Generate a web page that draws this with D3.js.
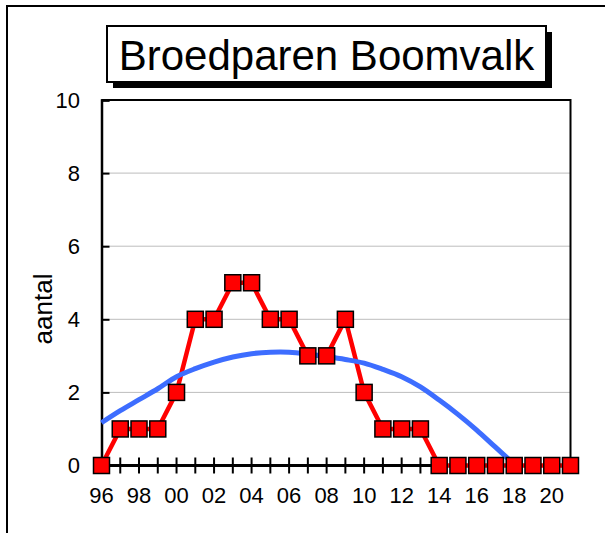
<!DOCTYPE html>
<html>
<head>
<meta charset="utf-8">
<script src="https://cdn.jsdelivr.net/npm/d3@7"></script>
<style>
  body { margin: 0; background: #fff; }
  svg text { font-family: "Liberation Sans", Arial, sans-serif; fill: #000; }
</style>
</head>
<body>
<svg id="chart" width="605" height="533"></svg>
<script>
// broedparen per jaar (96 = 1996, 121 = 2021)
var years = d3.range(96, 122);
var counts = [0, 1, 1, 1, 2, 4, 4, 5, 5, 4, 4, 3, 3, 4, 2, 1, 1, 1, 0, 0, 0, 0, 0, 0, 0, 0];

// trendlijn
var trendYears = d3.range(96, 119);
var trendValues = [1.17, 1.5, 1.8, 2.1, 2.43, 2.65, 2.83, 2.97, 3.06, 3.1, 3.1, 3.05,
                   2.98, 2.9, 2.8, 2.63, 2.43, 2.15, 1.79, 1.4, 0.97, 0.5, 0.04];

var yTicks = [0, 2, 4, 6, 8, 10];
var xLabelYears = d3.range(96, 121, 2);

var svg = d3.select('#chart');

var plot = { left: 101.5, right: 570.5, top: 100, bottom: 465.5 };

var x = d3.scaleLinear().domain([96, 121]).range([plot.left, plot.right]);
var y = d3.scaleLinear().domain([0, 10]).range([plot.bottom, plot.top]);

// outer frame (runs off the right and bottom edge)
svg.append('rect')
    .attr('x', 7).attr('y', 6)
    .attr('width', 650).attr('height', 600)
    .attr('fill', 'none').attr('stroke', '#000').attr('stroke-width', 2);

// title box with shadow
var tb = { x: 107, y: 26, w: 439, h: 56 };
svg.append('rect')
    .attr('x', tb.x + 6).attr('y', tb.y + 6)
    .attr('width', tb.w).attr('height', tb.h)
    .attr('fill', '#000');
svg.append('rect')
    .attr('x', tb.x).attr('y', tb.y)
    .attr('width', tb.w).attr('height', tb.h)
    .attr('fill', '#fff').attr('stroke', '#000').attr('stroke-width', 2);
svg.append('text')
    .attr('x', tb.x + tb.w / 2).attr('y', tb.y + 44)
    .attr('text-anchor', 'middle')
    .style('font-size', '42px')
    .text('Broedparen Boomvalk');

// gridlines
svg.append('g').selectAll('line.grid')
    .data(yTicks.filter(function(d) { return d > 0 && d < 10; }))
    .enter().append('line')
    .attr('class', 'grid')
    .attr('x1', plot.left).attr('x2', plot.right)
    .attr('y1', function(d) { return y(d); })
    .attr('y2', function(d) { return y(d); })
    .attr('stroke', '#bdbdbd').attr('stroke-width', 1);

// plot border top and right
svg.append('path')
    .attr('d', 'M' + plot.left + ',' + plot.top + 'H' + plot.right + 'V' + plot.bottom)
    .attr('fill', 'none').attr('stroke', '#000').attr('stroke-width', 2);

// y axis: ticks pointing inward
var yAxis = svg.append('g')
    .attr('transform', 'translate(' + plot.left + ',0)')
    .call(d3.axisRight(y).tickValues(yTicks).tickSize(8).tickFormat(''));
yAxis.select('.domain').attr('stroke-width', 2.5);
yAxis.selectAll('.tick line').attr('stroke-width', 2);

svg.append('g').selectAll('text.ylab')
    .data(yTicks)
    .enter().append('text')
    .attr('class', 'ylab')
    .attr('x', 80)
    .attr('y', function(d) { return y(d); })
    .attr('dy', '0.36em')
    .attr('text-anchor', 'end')
    .style('font-size', '22px')
    .text(function(d) { return d; });

svg.append('text')
    .attr('transform', 'translate(52,309) rotate(-90)')
    .attr('text-anchor', 'middle')
    .style('font-size', '26px')
    .text('aantal');

// x axis: crossing ticks at every year
var xAxis = svg.append('g')
    .attr('transform', 'translate(0,' + plot.bottom + ')');
xAxis.append('line')
    .attr('x1', plot.left).attr('x2', plot.right)
    .attr('stroke', '#000').attr('stroke-width', 3);
xAxis.selectAll('line.xt')
    .data(years)
    .enter().append('line')
    .attr('class', 'xt')
    .attr('x1', function(d) { return x(d); })
    .attr('x2', function(d) { return x(d); })
    .attr('y1', -8).attr('y2', 8)
    .attr('stroke', '#000').attr('stroke-width', 2);

svg.append('g').selectAll('text.xlab')
    .data(xLabelYears)
    .enter().append('text')
    .attr('class', 'xlab')
    .attr('x', function(d) { return x(d); })
    .attr('y', 503)
    .attr('text-anchor', 'middle')
    .style('font-size', '22px')
    .text(function(d) { return d3.format('02')(d % 100); });

// data line
var line = d3.line()
    .x(function(d, i) { return x(years[i]); })
    .y(function(d) { return y(d); });

svg.append('path')
    .datum(counts)
    .attr('d', line)
    .attr('fill', 'none')
    .attr('stroke', '#ff0000')
    .attr('stroke-width', 4.5)
    .attr('stroke-linejoin', 'round');

// trend curve
var trend = d3.line()
    .x(function(d, i) { return x(trendYears[i]); })
    .y(function(d) { return y(d); })
    .curve(d3.curveCatmullRom);

svg.append('path')
    .datum(trendValues)
    .attr('d', trend)
    .attr('fill', 'none')
    .attr('stroke', '#3d6dff')
    .attr('stroke-width', 5);

// markers
var ms = 16;
svg.append('g').selectAll('rect.marker')
    .data(counts)
    .enter().append('rect')
    .attr('class', 'marker')
    .attr('x', function(d, i) { return x(years[i]) - ms / 2; })
    .attr('y', function(d) { return y(d) - ms / 2; })
    .attr('width', ms).attr('height', ms)
    .attr('fill', '#ff0000')
    .attr('stroke', '#000').attr('stroke-width', 1.5);
</script>
</body>
</html>
